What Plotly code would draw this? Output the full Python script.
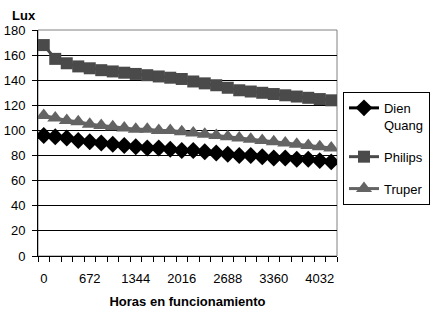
import plotly.graph_objects as go

hours = [0, 168, 336, 504, 672, 840, 1008, 1176, 1344, 1512, 1680, 1848, 2016,
         2184, 2352, 2520, 2688, 2856, 3024, 3192, 3360, 3528, 3696, 3864, 4032, 4200]
dien_quang = [96, 95, 94, 92, 91, 90, 89, 88, 87, 86, 86, 85, 84,
              84, 83, 82, 81, 80, 80, 79, 78, 78, 77, 77, 76, 75]
philips = [168, 157, 153.5, 151, 149.5, 148, 147, 146, 145, 144, 143, 142, 141,
           139, 137.5, 136, 134, 132, 131, 130, 129, 128, 127, 126, 125, 124]
truper = [112, 110, 108, 107, 105, 104, 103, 102, 101, 101, 100, 100, 99,
          98, 97, 96, 95, 94, 93, 92, 91, 90, 89, 88, 87, 86]
tick_labels = [0, 672, 1344, 2016, 2688, 3360, 4032]
y_ticks = [0, 20, 40, 60, 80, 100, 120, 140, 160, 180]

FONT = "Liberation Sans, Arial, sans-serif"

fig = go.Figure()
series = [
    ("Dien<br>Quang", dien_quang, "#000000", "diamond", 13),
    ("Philips", philips, "#4a4a4a", "square", 12),
    ("Truper", truper, "#646464", "triangle-up", 14),
]
for i, (name, vals, col, sym, sz) in enumerate(series):
    fig.add_trace(go.Scatter(
        x=hours, y=vals, name=name, mode="lines+markers",
        line=dict(color=col, width=3),
        marker=dict(symbol=sym, size=sz, color=col),
        legendgroup=f"g{i}",
    ))

fig.update_layout(
    width=430, height=318,
    margin=dict(l=38, r=93, t=30, b=62, autoexpand=False),
    paper_bgcolor="white", plot_bgcolor="white",
    font=dict(family=FONT, size=13, color="#000000"),
    showlegend=True,
    legend=dict(
        x=1.02, y=0.726, xanchor="left", yanchor="top",
        bordercolor="#000000", borderwidth=1, bgcolor="white",
        font=dict(family=FONT, size=13, color="#000000"),
        valign="top", tracegroupgap=12,
        itemwidth=30,
    ),
    xaxis=dict(
        range=[-84, 4284], tickmode="array", tickvals=tick_labels,
        ticktext=[str(t) for t in tick_labels], ticks="",
        showgrid=False, zeroline=False, automargin=False,
        showline=True, linecolor="#000000", linewidth=1,
        minor=dict(tick0=-84, dtick=168, ticks="outside", ticklen=5,
                   tickcolor="#000000", showgrid=False),
        tickfont=dict(size=13), ticklabelstandoff=10,
        title=dict(text="<b>Horas en funcionamiento</b>", font=dict(size=13), standoff=12),
    ),
    yaxis=dict(
        range=[0, 180], tickmode="array", tickvals=y_ticks,
        ticks="outside", ticklen=5, tickcolor="#000000",
        showgrid=True, gridcolor="#000000", gridwidth=1, automargin=False,
        zeroline=False, showline=True, linecolor="#000000", linewidth=1,
        tickfont=dict(size=13), ticklabelstandoff=4,
    ),
    annotations=[dict(
        text="<b>Lux</b>", xref="paper", yref="paper",
        x=(10 - 38) / 299, y=(256 - 15) / 226,
        xanchor="left", yanchor="middle", showarrow=False,
        font=dict(size=13),
    )],
)

fig.add_shape(type="rect", xref="paper", yref="paper", x0=0, y0=0, x1=1, y1=1,
              line=dict(color="#808080", width=1), layer="below")

fig.write_html("out.html", config={"displayModeBar": False},
               post_script="document.body.style.margin='0';")
